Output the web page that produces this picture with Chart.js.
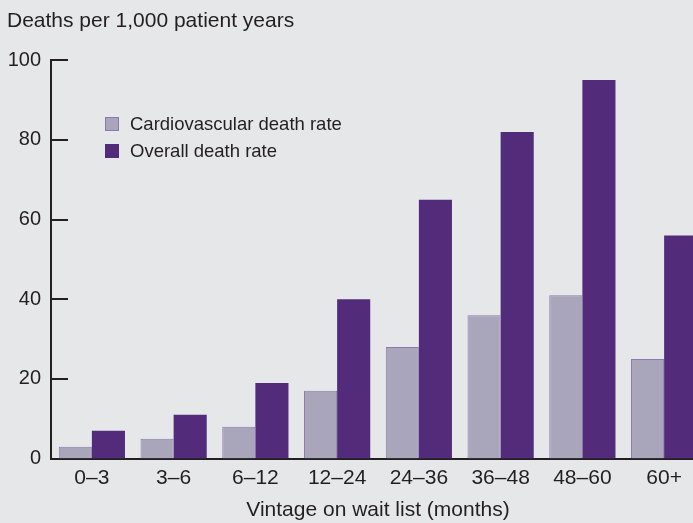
<!DOCTYPE html>
<html>
<head>
<meta charset="utf-8">
<script src="https://cdn.jsdelivr.net/npm/chart.js@4"></script>
<style>
  html, body { margin: 0; padding: 0; background: #E6E7E9; overflow: hidden; }
  #wrap { width: 710px; height: 523px; position: relative; }
</style>
</head>
<body>
<div id="wrap"><canvas id="chart"></canvas></div>
<script>
// data
const categories = ['0\u20133', '3\u20136', '6\u201312', '12\u201324', '24\u201336', '36\u201348', '48\u201360', '60+'];
const cardioRate = [3, 5, 8, 17, 28, 36, 41, 25];
const overallRate = [7, 11, 19, 40, 65, 82, 95, 56];
const yTicks = [0, 20, 40, 60, 80, 100];

const TEXT = '#231F20';
const FONT = '"Liberation Sans", Arial, sans-serif';

// tick marks pointing into the plot, plus the boxed legend
const extras = {
    id: 'extras',
    afterDraw(chart) {
        const ctx = chart.ctx;
        const y = chart.scales.y;
        const left = chart.chartArea.left;
        ctx.save();
        ctx.strokeStyle = TEXT;
        ctx.lineWidth = 2;
        yTicks.forEach(v => {
            if (v === 0) return;
            const py = Math.round(y.getPixelForValue(v));
            ctx.beginPath();
            ctx.moveTo(left, py);
            ctx.lineTo(left + 17, py);
            ctx.stroke();
        });

        ctx.font = '18.5px ' + FONT;
        ctx.textBaseline = 'middle';
        chart.data.datasets.forEach((ds, i) => {
            const top = 117 + i * 27;
            ctx.fillStyle = ds.backgroundColor;
            ctx.fillRect(105, top, 14, 14);
            ctx.lineWidth = 1;
            ctx.strokeStyle = ds.borderColor;
            ctx.strokeRect(105.5, top + 0.5, 13, 13);
            ctx.fillStyle = TEXT;
            ctx.fillText(ds.label, 130, top + 7.5);
        });
        ctx.restore();
    }
};

new Chart(document.getElementById('chart'), {
    type: 'bar',
    data: {
        labels: categories,
        datasets: [
            {
                label: 'Cardiovascular death rate',
                data: cardioRate,
                backgroundColor: '#A9A6BB',
                borderColor: '#8E78B0',
                borderWidth: 1
            },
            {
                label: 'Overall death rate',
                data: overallRate,
                backgroundColor: '#522C7A',
                borderColor: '#522C7A',
                borderWidth: 0
            }
        ]
    },
    options: {
        responsive: true,
        maintainAspectRatio: false,
        animation: false,
        categoryPercentage: 0.81,
        barPercentage: 1,
        layout: { padding: { left: 7, right: 5, bottom: 0 } },
        plugins: {
            legend: { display: false },
            tooltip: { enabled: false },
            title: {
                display: true,
                text: 'Deaths per 1,000 patient years',
                align: 'start',
                color: TEXT,
                font: { family: FONT, size: 21, weight: 'normal' },
                padding: { top: 9, bottom: 26 }
            }
        },
        scales: {
            x: {
                grid: { display: false, drawTicks: false },
                border: { display: true, color: TEXT, width: 2 },
                ticks: {
                    color: TEXT,
                    font: { family: FONT, size: 21 },
                    padding: 7
                },
                title: {
                    display: true,
                    text: 'Vintage on wait list (months)',
                    color: TEXT,
                    font: { family: FONT, size: 21 },
                    padding: { top: 0, bottom: 0 }
                }
            },
            y: {
                min: 0,
                max: 100,
                afterBuildTicks(scale) {
                    scale.ticks = yTicks.map(v => ({ value: v }));
                },
                afterFit(scale) { scale.width = 44; },
                grid: { display: false, drawTicks: false },
                border: { display: true, color: TEXT, width: 2 },
                ticks: {
                    color: TEXT,
                    font: { family: FONT, size: 20 },
                    padding: 10
                }
            }
        }
    },
    plugins: [extras]
});
</script>
</body>
</html>
